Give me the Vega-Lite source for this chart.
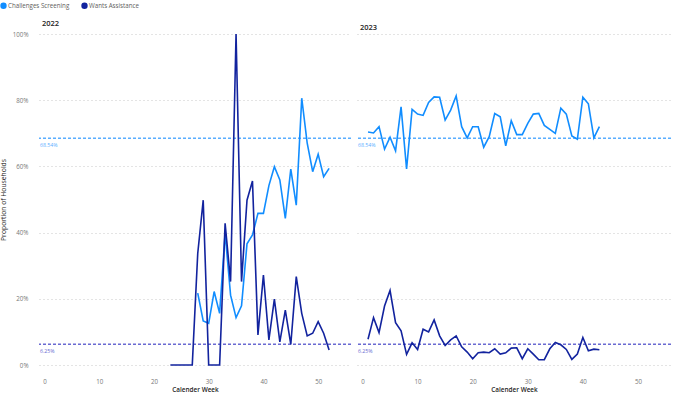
{
  "$schema": "https://vega.github.io/schema/vega-lite/v6.json",
  "padding": {"left": 0, "top": 2, "right": 0, "bottom": 0},
  "background": "white",
  "datasets": {
    "series": [
      {"year": 2022, "week": 28, "series": "Challenges Screening", "value": 0.217},
      {"year": 2022, "week": 29, "series": "Challenges Screening", "value": 0.133},
      {"year": 2022, "week": 30, "series": "Challenges Screening", "value": 0.126},
      {"year": 2022, "week": 31, "series": "Challenges Screening", "value": 0.222},
      {"year": 2022, "week": 32, "series": "Challenges Screening", "value": 0.156},
      {"year": 2022, "week": 33, "series": "Challenges Screening", "value": 0.398},
      {"year": 2022, "week": 34, "series": "Challenges Screening", "value": 0.211},
      {"year": 2022, "week": 35, "series": "Challenges Screening", "value": 0.143},
      {"year": 2022, "week": 36, "series": "Challenges Screening", "value": 0.179},
      {"year": 2022, "week": 37, "series": "Challenges Screening", "value": 0.366},
      {"year": 2022, "week": 38, "series": "Challenges Screening", "value": 0.393},
      {"year": 2022, "week": 39, "series": "Challenges Screening", "value": 0.458},
      {"year": 2022, "week": 40, "series": "Challenges Screening", "value": 0.458},
      {"year": 2022, "week": 41, "series": "Challenges Screening", "value": 0.542},
      {"year": 2022, "week": 42, "series": "Challenges Screening", "value": 0.599},
      {"year": 2022, "week": 43, "series": "Challenges Screening", "value": 0.559},
      {"year": 2022, "week": 44, "series": "Challenges Screening", "value": 0.443},
      {"year": 2022, "week": 45, "series": "Challenges Screening", "value": 0.592},
      {"year": 2022, "week": 46, "series": "Challenges Screening", "value": 0.483},
      {"year": 2022, "week": 47, "series": "Challenges Screening", "value": 0.806},
      {"year": 2022, "week": 48, "series": "Challenges Screening", "value": 0.670},
      {"year": 2022, "week": 49, "series": "Challenges Screening", "value": 0.584},
      {"year": 2022, "week": 50, "series": "Challenges Screening", "value": 0.637},
      {"year": 2022, "week": 51, "series": "Challenges Screening", "value": 0.569},
      {"year": 2022, "week": 52, "series": "Challenges Screening", "value": 0.594},
      {"year": 2022, "week": 23, "series": "Wants Assistance", "value": 0},
      {"year": 2022, "week": 24, "series": "Wants Assistance", "value": 0},
      {"year": 2022, "week": 25, "series": "Wants Assistance", "value": 0},
      {"year": 2022, "week": 26, "series": "Wants Assistance", "value": 0},
      {"year": 2022, "week": 27, "series": "Wants Assistance", "value": 0},
      {"year": 2022, "week": 28, "series": "Wants Assistance", "value": 0.337},
      {"year": 2022, "week": 29, "series": "Wants Assistance", "value": 0.498},
      {"year": 2022, "week": 30, "series": "Wants Assistance", "value": 0},
      {"year": 2022, "week": 31, "series": "Wants Assistance", "value": 0},
      {"year": 2022, "week": 32, "series": "Wants Assistance", "value": 0},
      {"year": 2022, "week": 33, "series": "Wants Assistance", "value": 0.428},
      {"year": 2022, "week": 34, "series": "Wants Assistance", "value": 0.252},
      {"year": 2022, "week": 35, "series": "Wants Assistance", "value": 1.0},
      {"year": 2022, "week": 36, "series": "Wants Assistance", "value": 0.252},
      {"year": 2022, "week": 37, "series": "Wants Assistance", "value": 0.498},
      {"year": 2022, "week": 38, "series": "Wants Assistance", "value": 0.556},
      {"year": 2022, "week": 39, "series": "Wants Assistance", "value": 0.091},
      {"year": 2022, "week": 40, "series": "Wants Assistance", "value": 0.272},
      {"year": 2022, "week": 41, "series": "Wants Assistance", "value": 0.076},
      {"year": 2022, "week": 42, "series": "Wants Assistance", "value": 0.199},
      {"year": 2022, "week": 43, "series": "Wants Assistance", "value": 0.070},
      {"year": 2022, "week": 44, "series": "Wants Assistance", "value": 0.166},
      {"year": 2022, "week": 45, "series": "Wants Assistance", "value": 0.062},
      {"year": 2022, "week": 46, "series": "Wants Assistance", "value": 0.267},
      {"year": 2022, "week": 47, "series": "Wants Assistance", "value": 0.156},
      {"year": 2022, "week": 48, "series": "Wants Assistance", "value": 0.088},
      {"year": 2022, "week": 49, "series": "Wants Assistance", "value": 0.096},
      {"year": 2022, "week": 50, "series": "Wants Assistance", "value": 0.131},
      {"year": 2022, "week": 51, "series": "Wants Assistance", "value": 0.096},
      {"year": 2022, "week": 52, "series": "Wants Assistance", "value": 0.045},
      {"year": 2023, "week": 1, "series": "Challenges Screening", "value": 0.704},
      {"year": 2023, "week": 2, "series": "Challenges Screening", "value": 0.701},
      {"year": 2023, "week": 3, "series": "Challenges Screening", "value": 0.720},
      {"year": 2023, "week": 4, "series": "Challenges Screening", "value": 0.652},
      {"year": 2023, "week": 5, "series": "Challenges Screening", "value": 0.688},
      {"year": 2023, "week": 6, "series": "Challenges Screening", "value": 0.647},
      {"year": 2023, "week": 7, "series": "Challenges Screening", "value": 0.780},
      {"year": 2023, "week": 8, "series": "Challenges Screening", "value": 0.592},
      {"year": 2023, "week": 9, "series": "Challenges Screening", "value": 0.772},
      {"year": 2023, "week": 10, "series": "Challenges Screening", "value": 0.758},
      {"year": 2023, "week": 11, "series": "Challenges Screening", "value": 0.754},
      {"year": 2023, "week": 12, "series": "Challenges Screening", "value": 0.793},
      {"year": 2023, "week": 13, "series": "Challenges Screening", "value": 0.810},
      {"year": 2023, "week": 14, "series": "Challenges Screening", "value": 0.809},
      {"year": 2023, "week": 15, "series": "Challenges Screening", "value": 0.740},
      {"year": 2023, "week": 16, "series": "Challenges Screening", "value": 0.770},
      {"year": 2023, "week": 17, "series": "Challenges Screening", "value": 0.813},
      {"year": 2023, "week": 18, "series": "Challenges Screening", "value": 0.720},
      {"year": 2023, "week": 19, "series": "Challenges Screening", "value": 0.686},
      {"year": 2023, "week": 20, "series": "Challenges Screening", "value": 0.720},
      {"year": 2023, "week": 21, "series": "Challenges Screening", "value": 0.720},
      {"year": 2023, "week": 22, "series": "Challenges Screening", "value": 0.658},
      {"year": 2023, "week": 23, "series": "Challenges Screening", "value": 0.690},
      {"year": 2023, "week": 24, "series": "Challenges Screening", "value": 0.760},
      {"year": 2023, "week": 25, "series": "Challenges Screening", "value": 0.750},
      {"year": 2023, "week": 26, "series": "Challenges Screening", "value": 0.662},
      {"year": 2023, "week": 27, "series": "Challenges Screening", "value": 0.738},
      {"year": 2023, "week": 28, "series": "Challenges Screening", "value": 0.696},
      {"year": 2023, "week": 29, "series": "Challenges Screening", "value": 0.696},
      {"year": 2023, "week": 30, "series": "Challenges Screening", "value": 0.730},
      {"year": 2023, "week": 31, "series": "Challenges Screening", "value": 0.758},
      {"year": 2023, "week": 32, "series": "Challenges Screening", "value": 0.760},
      {"year": 2023, "week": 33, "series": "Challenges Screening", "value": 0.724},
      {"year": 2023, "week": 34, "series": "Challenges Screening", "value": 0.712},
      {"year": 2023, "week": 35, "series": "Challenges Screening", "value": 0.700},
      {"year": 2023, "week": 36, "series": "Challenges Screening", "value": 0.776},
      {"year": 2023, "week": 37, "series": "Challenges Screening", "value": 0.758},
      {"year": 2023, "week": 38, "series": "Challenges Screening", "value": 0.692},
      {"year": 2023, "week": 39, "series": "Challenges Screening", "value": 0.682},
      {"year": 2023, "week": 40, "series": "Challenges Screening", "value": 0.809},
      {"year": 2023, "week": 41, "series": "Challenges Screening", "value": 0.789},
      {"year": 2023, "week": 42, "series": "Challenges Screening", "value": 0.686},
      {"year": 2023, "week": 43, "series": "Challenges Screening", "value": 0.720},
      {"year": 2023, "week": 1, "series": "Wants Assistance", "value": 0.078},
      {"year": 2023, "week": 2, "series": "Wants Assistance", "value": 0.143},
      {"year": 2023, "week": 3, "series": "Wants Assistance", "value": 0.098},
      {"year": 2023, "week": 4, "series": "Wants Assistance", "value": 0.178},
      {"year": 2023, "week": 5, "series": "Wants Assistance", "value": 0.225},
      {"year": 2023, "week": 6, "series": "Wants Assistance", "value": 0.128},
      {"year": 2023, "week": 7, "series": "Wants Assistance", "value": 0.103},
      {"year": 2023, "week": 8, "series": "Wants Assistance", "value": 0.032},
      {"year": 2023, "week": 9, "series": "Wants Assistance", "value": 0.067},
      {"year": 2023, "week": 10, "series": "Wants Assistance", "value": 0.047},
      {"year": 2023, "week": 11, "series": "Wants Assistance", "value": 0.108},
      {"year": 2023, "week": 12, "series": "Wants Assistance", "value": 0.100},
      {"year": 2023, "week": 13, "series": "Wants Assistance", "value": 0.136},
      {"year": 2023, "week": 14, "series": "Wants Assistance", "value": 0.088},
      {"year": 2023, "week": 15, "series": "Wants Assistance", "value": 0.059},
      {"year": 2023, "week": 16, "series": "Wants Assistance", "value": 0.076},
      {"year": 2023, "week": 17, "series": "Wants Assistance", "value": 0.088},
      {"year": 2023, "week": 18, "series": "Wants Assistance", "value": 0.055},
      {"year": 2023, "week": 19, "series": "Wants Assistance", "value": 0.039},
      {"year": 2023, "week": 20, "series": "Wants Assistance", "value": 0.019},
      {"year": 2023, "week": 21, "series": "Wants Assistance", "value": 0.037},
      {"year": 2023, "week": 22, "series": "Wants Assistance", "value": 0.039},
      {"year": 2023, "week": 23, "series": "Wants Assistance", "value": 0.037},
      {"year": 2023, "week": 24, "series": "Wants Assistance", "value": 0.049},
      {"year": 2023, "week": 25, "series": "Wants Assistance", "value": 0.033},
      {"year": 2023, "week": 26, "series": "Wants Assistance", "value": 0.037},
      {"year": 2023, "week": 27, "series": "Wants Assistance", "value": 0.051},
      {"year": 2023, "week": 28, "series": "Wants Assistance", "value": 0.052},
      {"year": 2023, "week": 29, "series": "Wants Assistance", "value": 0.019},
      {"year": 2023, "week": 30, "series": "Wants Assistance", "value": 0.049},
      {"year": 2023, "week": 31, "series": "Wants Assistance", "value": 0.033},
      {"year": 2023, "week": 32, "series": "Wants Assistance", "value": 0.016},
      {"year": 2023, "week": 33, "series": "Wants Assistance", "value": 0.016},
      {"year": 2023, "week": 34, "series": "Wants Assistance", "value": 0.049},
      {"year": 2023, "week": 35, "series": "Wants Assistance", "value": 0.068},
      {"year": 2023, "week": 36, "series": "Wants Assistance", "value": 0.061},
      {"year": 2023, "week": 37, "series": "Wants Assistance", "value": 0.047},
      {"year": 2023, "week": 38, "series": "Wants Assistance", "value": 0.017},
      {"year": 2023, "week": 39, "series": "Wants Assistance", "value": 0.033},
      {"year": 2023, "week": 40, "series": "Wants Assistance", "value": 0.083},
      {"year": 2023, "week": 41, "series": "Wants Assistance", "value": 0.043},
      {"year": 2023, "week": 42, "series": "Wants Assistance", "value": 0.048},
      {"year": 2023, "week": 43, "series": "Wants Assistance", "value": 0.046}
    ],
    "refs": [
      {"series": "Challenges Screening", "value": 0.6854},
      {"series": "Wants Assistance", "value": 0.0625}
    ]
  },
  "config": {
    "font": "Open Sans",
    "view": {"stroke": null},
    "title": {"fontSize": 7.5, "fontWeight": 600, "color": "#252423", "anchor": "start", "frame": "group", "offset": 3, "dx": 3},
    "legend": {"orient": "none", "legendX": -39, "legendY": -32, "direction": "horizontal", "title": null, "symbolType": "circle", "symbolSize": 10, "symbolStrokeWidth": 3.2, "labelFontSize": 6.2, "labelColor": "#605E5C", "labelOffset": 1, "columnPadding": 6, "padding": 0}
  },
  "resolve": {"scale": {"color": "shared"}, "legend": {"color": "shared"}},
  "spacing": 4,
  "hconcat": [
    {
      "width": 312,
      "height": 331,
      "title": "2022",
      "layer": [
        {
          "data": {"name": "refs"},
          "transform": [{"filter": "datum.series == 'Challenges Screening'"}],
          "mark": {"type": "rule", "strokeDash": [3, 2], "strokeWidth": 1.5, "color": "#5AAEFF"},
          "encoding": {"y": {"field": "value", "type": "quantitative", "scale": {"domain": [0, 1]}}}
        },
        {
          "data": {"name": "refs"},
          "transform": [{"filter": "datum.series == 'Wants Assistance'"}],
          "mark": {"type": "rule", "strokeDash": [3, 2], "strokeWidth": 1.5, "color": "#6A6AD2"},
          "encoding": {"y": {"field": "value", "type": "quantitative"}}
        },
        {
          "data": {"name": "refs"},
          "transform": [{"filter": "datum.series == 'Challenges Screening'"}],
          "mark": {"type": "text", "align": "left", "baseline": "top", "dy": 5, "dx": 1, "fontSize": 5.2, "color": "#5AAEFF"},
          "encoding": {
            "x": {"datum": -1, "type": "quantitative"},
            "y": {"field": "value", "type": "quantitative"},
            "text": {"field": "value", "type": "quantitative", "format": ".2%"}
          }
        },
        {
          "data": {"name": "refs"},
          "transform": [{"filter": "datum.series == 'Wants Assistance'"}],
          "mark": {"type": "text", "align": "left", "baseline": "top", "dy": 5, "dx": 1, "fontSize": 5.2, "color": "#6A6AD2"},
          "encoding": {
            "x": {"datum": -1, "type": "quantitative"},
            "y": {"field": "value", "type": "quantitative"},
            "text": {"field": "value", "type": "quantitative", "format": ".2%"}
          }
        },
        {
          "data": {"name": "series"},
          "transform": [{"filter": "datum.year == 2022"}],
          "mark": {"type": "line", "strokeWidth": 1.6},
          "encoding": {
            "x": {"field": "week", "type": "quantitative", "scale": {"domain": [-1, 56], "nice": false, "zero": false},
              "axis": {"title": "Calender Week", "values": [0, 10, 20, 30, 40, 50], "grid": false, "domain": false, "ticks": false, "labelPadding": 13, "labelColor": "#777777", "labelFontSize": 6.2, "titleFontSize": 6.4, "titleFontWeight": 600, "titleColor": "#252423", "titlePadding": 2}},
            "y": {"field": "value", "type": "quantitative", "scale": {"domain": [0, 1]},
              "axis": {"title": "Proportion of Households", "values": [0, 0.2, 0.4, 0.6, 0.8, 1], "format": ".0%", "grid": true, "gridDash": [1, 3], "gridColor": "#c8c8c8", "domain": false, "ticks": false, "labelColor": "#777777", "labelFontSize": 6.2, "labelPadding": 11, "titleFontSize": 6.8, "titleFontWeight": "normal", "titleColor": "#252423", "titlePadding": 6}},
            "color": {"field": "series", "type": "nominal", "scale": {"domain": ["Challenges Screening", "Wants Assistance"], "range": ["#118DFF", "#12239E"]}}
          }
        }
      ]
    },
    {
      "width": 314,
      "height": 331,
      "title": "2023",
      "layer": [
        {
          "data": {"name": "refs"},
          "transform": [{"filter": "datum.series == 'Challenges Screening'"}],
          "mark": {"type": "rule", "strokeDash": [3, 2], "strokeWidth": 1.5, "color": "#5AAEFF"},
          "encoding": {"y": {"field": "value", "type": "quantitative", "scale": {"domain": [0, 1]},
            "axis": {"labels": false, "title": null, "values": [0, 0.2, 0.4, 0.6, 0.8, 1], "grid": true, "gridDash": [1, 3], "gridColor": "#c8c8c8", "domain": false, "ticks": false}}}
        },
        {
          "data": {"name": "refs"},
          "transform": [{"filter": "datum.series == 'Wants Assistance'"}],
          "mark": {"type": "rule", "strokeDash": [3, 2], "strokeWidth": 1.5, "color": "#6A6AD2"},
          "encoding": {"y": {"field": "value", "type": "quantitative"}}
        },
        {
          "data": {"name": "refs"},
          "transform": [{"filter": "datum.series == 'Challenges Screening'"}],
          "mark": {"type": "text", "align": "left", "baseline": "top", "dy": 5, "dx": 1, "fontSize": 5.2, "color": "#5AAEFF"},
          "encoding": {
            "x": {"datum": -1, "type": "quantitative"},
            "y": {"field": "value", "type": "quantitative"},
            "text": {"field": "value", "type": "quantitative", "format": ".2%"}
          }
        },
        {
          "data": {"name": "refs"},
          "transform": [{"filter": "datum.series == 'Wants Assistance'"}],
          "mark": {"type": "text", "align": "left", "baseline": "top", "dy": 5, "dx": 1, "fontSize": 5.2, "color": "#6A6AD2"},
          "encoding": {
            "x": {"datum": -1, "type": "quantitative"},
            "y": {"field": "value", "type": "quantitative"},
            "text": {"field": "value", "type": "quantitative", "format": ".2%"}
          }
        },
        {
          "data": {"name": "series"},
          "transform": [{"filter": "datum.year == 2023"}],
          "mark": {"type": "line", "strokeWidth": 1.6},
          "encoding": {
            "x": {"field": "week", "type": "quantitative", "scale": {"domain": [-1, 56], "nice": false, "zero": false},
              "axis": {"title": "Calender Week", "values": [0, 10, 20, 30, 40, 50], "grid": false, "domain": false, "ticks": false, "labelPadding": 13, "labelColor": "#777777", "labelFontSize": 6.2, "titleFontSize": 6.4, "titleFontWeight": 600, "titleColor": "#252423", "titlePadding": 2}},
            "y": {"field": "value", "type": "quantitative", "scale": {"domain": [0, 1]},
              "axis": {"labels": false, "title": null, "values": [0, 0.2, 0.4, 0.6, 0.8, 1], "grid": true, "gridDash": [1, 3], "gridColor": "#c8c8c8", "domain": false, "ticks": false}},
            "color": {"field": "series", "type": "nominal", "scale": {"domain": ["Challenges Screening", "Wants Assistance"], "range": ["#118DFF", "#12239E"]}}
          }
        }
      ]
    }
  ]
}
